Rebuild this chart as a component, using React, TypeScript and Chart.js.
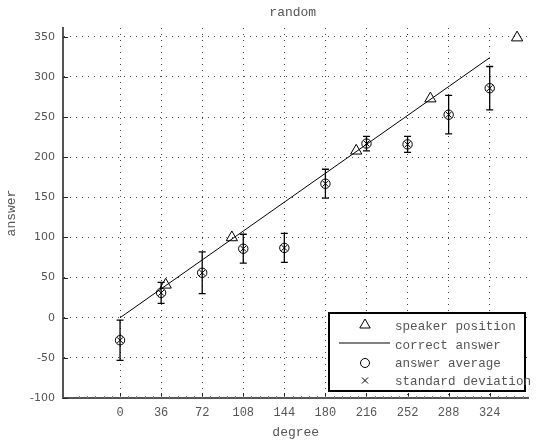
import React, { useEffect, useRef } from "react";
import { Chart, registerables } from "chart.js";

Chart.register(...registerables);

const degrees = [0, 36, 72, 108, 144, 180, 216, 252, 288, 324];
const answerAvg = [-28, 31, 56, 86, 87, 167, 217, 216, 253, 286];
const answerSd = [25, 13, 26, 18, 18, 18, 9, 10, 24, 27];
const speakerX = [40, 98, 207, 272, 348];
const speakerY = [41, 100, 208, 273, 349];
const correctX = [0, 324];
const correctY = [0, 324];
const xTicks = [0, 36, 72, 108, 144, 180, 216, 252, 288, 324];
const yTicks = [-100, -50, 0, 50, 100, 150, 200, 250, 300, 350];
const legendLabels = ["speaker position", "correct answer", "answer average", "standard deviation"];
const titleText = "random";
const xTitle = "degree";
const yTitle = "answer";

const MONO = '"Liberation Mono", "DejaVu Sans Mono", monospace';
const SANS = '"DejaVu Sans", sans-serif';
const TXT = "#555";

const extrasPlugin = {
  id: "extras",
  beforeDatasetsDraw(chart: any) {
    const { ctx, scales } = chart;
    const xs = scales.x, ys = scales.y;
    ctx.save();
    ctx.strokeStyle = "#000";
    ctx.lineWidth = 1.3;
    degrees.forEach((d, i) => {
      const px = xs.getPixelForValue(d);
      const top = ys.getPixelForValue(answerAvg[i] + answerSd[i]);
      const bot = ys.getPixelForValue(answerAvg[i] - answerSd[i]);
      ctx.beginPath();
      ctx.moveTo(px, top);
      ctx.lineTo(px, bot);
      ctx.moveTo(px - 3.5, top);
      ctx.lineTo(px + 3.5, top);
      ctx.moveTo(px - 3.5, bot);
      ctx.lineTo(px + 3.5, bot);
      ctx.stroke();
    });
    ctx.restore();
  },
  afterDraw(chart: any) {
    const { ctx, chartArea, scales } = chart;
    const xs = scales.x, ys = scales.y;
    ctx.save();
    ctx.strokeStyle = "#222";
    ctx.lineWidth = 1;
    xTicks.forEach((t) => {
      const px = Math.round(xs.getPixelForValue(t)) + 0.5;
      ctx.beginPath();
      ctx.moveTo(px, chartArea.bottom);
      ctx.lineTo(px, chartArea.bottom - 5);
      ctx.stroke();
    });
    ctx.strokeStyle = "#777";
    for (let v = -36; v <= 360; v += 7.2) {
      const px = Math.round(xs.getPixelForValue(v)) + 0.5;
      if (px < chartArea.left || px > chartArea.right) continue;
      ctx.beginPath();
      ctx.moveTo(px, chartArea.bottom);
      ctx.lineTo(px, chartArea.bottom - 2);
      ctx.stroke();
    }
    ctx.strokeStyle = "#222";
    yTicks.forEach((t) => {
      const py = Math.round(ys.getPixelForValue(t)) + 0.5;
      ctx.beginPath();
      ctx.moveTo(chartArea.left, py);
      ctx.lineTo(chartArea.left + 5, py);
      ctx.stroke();
    });

    ctx.fillStyle = TXT;
    ctx.font = `13px ${MONO}`;
    ctx.textAlign = "center";
    ctx.textBaseline = "middle";
    const cx = (chartArea.left + chartArea.right) / 2;
    ctx.fillText(titleText, cx - 3, 13);
    ctx.fillText(xTitle, cx, 433);
    ctx.save();
    ctx.translate(12, (chartArea.top + chartArea.bottom) / 2);
    ctx.rotate(-Math.PI / 2);
    ctx.fillText(yTitle, 0, 0);
    ctx.restore();

    const lx = 329, ly = 313, lw = 196, lh = 78;
    ctx.fillStyle = "#fff";
    ctx.fillRect(lx, ly, lw, lh);
    ctx.strokeStyle = "#000";
    ctx.lineWidth = 2;
    ctx.strokeRect(lx, ly, lw, lh);
    const rows = [327, 345.5, 363.5, 381.5];
    const sx = 365;
    ctx.lineWidth = 1;
    ctx.strokeStyle = "#000";
    const r = 6;
    const ty = 325;
    ctx.beginPath();
    ctx.moveTo(sx, ty - r);
    ctx.lineTo(sx + r * 0.866, ty + r * 0.5);
    ctx.lineTo(sx - r * 0.866, ty + r * 0.5);
    ctx.closePath();
    ctx.stroke();
    ctx.beginPath();
    ctx.moveTo(339, 343);
    ctx.lineTo(390, 343);
    ctx.stroke();
    ctx.beginPath();
    ctx.arc(sx, 363, 4.5, 0, Math.PI * 2);
    ctx.stroke();
    ctx.beginPath();
    ctx.moveTo(sx - 3, 377.5);
    ctx.lineTo(sx + 3, 383.5);
    ctx.moveTo(sx + 3, 377.5);
    ctx.lineTo(sx - 3, 383.5);
    ctx.stroke();
    ctx.fillStyle = TXT;
    ctx.font = `12.6px ${MONO}`;
    ctx.textAlign = "left";
    ctx.textBaseline = "middle";
    legendLabels.forEach((l, i) => ctx.fillText(l, 395, rows[i]));
    ctx.restore();
  },
};

export default function App() {
  const ref = useRef<HTMLCanvasElement | null>(null);
  useEffect(() => {
    document.body.style.margin = "0";
    const canvas = ref.current!;
    const chart = new Chart(canvas, {
      type: "scatter",
      data: {
        datasets: [
          {
            label: legendLabels[0],
            data: speakerX.map((x, i) => ({ x, y: speakerY[i] })),
            pointStyle: "triangle",
            pointRadius: 6.5,
            borderColor: "#000",
            backgroundColor: "rgba(0,0,0,0)",
            borderWidth: 1,
            showLine: false,
          },
          {
            label: legendLabels[1],
            data: correctX.map((x, i) => ({ x, y: correctY[i] })),
            showLine: true,
            pointRadius: 0,
            borderColor: "#000",
            borderWidth: 1,
          },
          {
            label: legendLabels[2],
            data: degrees.map((x, i) => ({ x, y: answerAvg[i] })),
            pointStyle: "circle",
            pointRadius: 4.7,
            borderColor: "#000",
            backgroundColor: "rgba(0,0,0,0)",
            borderWidth: 1,
            showLine: false,
          },
          {
            label: legendLabels[3],
            data: degrees.map((x, i) => ({ x, y: answerAvg[i] })),
            pointStyle: "crossRot",
            pointRadius: 4,
            borderColor: "#000",
            borderWidth: 1,
            showLine: false,
          },
        ],
      },
      options: {
        animation: false,
        responsive: false,
        maintainAspectRatio: false,
        layout: { padding: { top: 28, right: 0, left: 0, bottom: 0 } },
        plugins: {
          legend: { display: false },
          title: { display: false },
          tooltip: { enabled: false },
        },
        scales: {
          x: {
            type: "linear",
            min: -50,
            max: 358,
            afterBuildTicks: (s: any) => {
              s.ticks = xTicks.map((v) => ({ value: v }));
            },
            afterFit: (s: any) => {
              s.height = 43;
            },
            ticks: {
              font: { family: MONO, size: 12 },
              color: TXT,
              padding: 8,
              maxRotation: 0,
              autoSkip: false,
            },
            grid: {
              color: "#444",
              lineWidth: 1,
              drawTicks: false,
            },
            border: { display: true, color: "#555", width: 2, dash: [1, 5] },
          },
          y: {
            type: "linear",
            min: -100,
            max: 361,
            afterBuildTicks: (s: any) => {
              s.ticks = yTicks.map((v) => ({ value: v }));
            },
            afterFit: (s: any) => {
              s.width = 63;
            },
            ticks: {
              font: { family: SANS, size: 11 },
              color: TXT,
              padding: 8,
              autoSkip: false,
            },
            grid: {
              color: "#444",
              lineWidth: 1,
              drawTicks: false,
            },
            border: { display: true, color: "#555", width: 2, dash: [1, 5] },
          },
        },
      },
      plugins: [extrasPlugin],
    });
    return () => chart.destroy();
  }, []);
  return (
    <div style={{ position: "fixed", left: 0, top: 0, width: 536, height: 441 }}>
      <canvas ref={ref} width={536} height={441} style={{ width: 536, height: 441 }} />
    </div>
  );
}
